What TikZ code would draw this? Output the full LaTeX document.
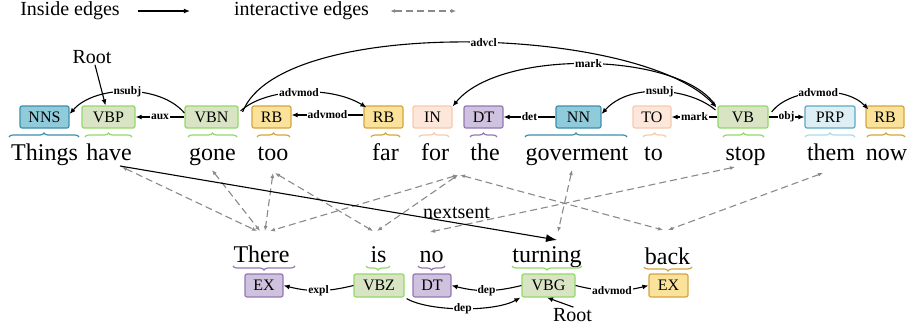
\documentclass[tikz,border=0pt]{standalone}
\usepackage{fontspec}
\setmainfont{Liberation Serif}
\usetikzlibrary{arrows.meta,decorations.pathreplacing,calc}
\definecolor{tealF}{HTML}{8FCBDA}\definecolor{tealD}{HTML}{3E8FAA}
\definecolor{grnF}{HTML}{D8E4C4}\definecolor{grnD}{HTML}{92D86A}
\definecolor{ylwF}{HTML}{FBE29A}\definecolor{ylwD}{HTML}{D4A53E}
\definecolor{pchF}{HTML}{FDE6DA}\definecolor{pchD}{HTML}{F6C9AE}
\definecolor{purF}{HTML}{CFC2DE}\definecolor{purD}{HTML}{9478B4}
\definecolor{ltbF}{HTML}{DDEFF5}\definecolor{ltbD}{HTML}{5DA8C2}\definecolor{ltbB}{HTML}{A9DAEA}
\definecolor{dgray}{HTML}{8A8A8A}
\tikzset{
  tag/.style={draw, rounded corners=2pt, line width=1.2pt, minimum height=22pt, inner sep=0pt, font=\fontsize{16}{16}\selectfont},
  tteal/.style={tag, fill=tealF, draw=tealD},
  tgrn/.style={tag, fill=grnF, draw=grnD},
  tylw/.style={tag, fill=ylwF, draw=ylwD},
  tpch/.style={tag, fill=pchF, draw=pchD},
  tpur/.style={tag, fill=purF, draw=purD},
  tltb/.style={tag, fill=ltbF, draw=ltbD},
  word/.style={anchor=base, inner sep=0pt, font=\fontsize{24}{24}\selectfont},
  bigtxt/.style={inner sep=1pt, font=\fontsize{20}{20}\selectfont},
  lbl/.style={fill=white, inner sep=0.8pt, font=\bfseries\fontsize{11.5}{11.5}\selectfont},
  depedge/.style={line width=1.1pt, -{Latex[length=6pt,width=5pt]}},
  inter/.style={dgray, line width=1.1pt, dash pattern=on 7pt off 4pt, {Latex[length=5pt,width=4pt]}-{Latex[length=5pt,width=4pt]}},
  wbrace/.style={decorate, decoration={brace, amplitude=4pt}, line width=1.2pt},
}
\begin{document}
\begin{tikzpicture}[x=1pt,y=-1pt]
\useasboundingbox (0,0) rectangle (910,333);
% legend
\node[bigtxt] (leg1) at (70,11) {Inside edges};
\node[bigtxt] (leg2) at (301.5,11) {interactive edges};
\draw[line width=1.1pt, -{Latex[length=6pt,width=5pt]}] ([xshift=17pt]leg1.east) -- ([xshift=69pt]leg1.east);
\draw[inter] ([xshift=20pt]leg2.east) -- ([xshift=86pt]leg2.east);
% top tags
\node[tteal, minimum width=49pt] (nns) at (44.5,117) {NNS};
\node[tgrn, minimum width=53pt] (vbp) at (108.5,117) {VBP};
\node[tgrn, minimum width=53pt] (vbn) at (211.5,117) {VBN};
\node[tylw, minimum width=39pt] (rbtoo) at (271.5,117) {RB};
\node[tylw, minimum width=39pt] (rbfar) at (383.5,117) {RB};
\node[tpch, minimum width=39pt] (tin) at (432.5,117) {IN};
\node[tpur, minimum width=39pt] (dt) at (483.5,117) {DT};
\node[tteal, minimum width=45pt] (nn) at (578.5,117) {NN};
\node[tpch, minimum width=38pt] (tto) at (652,117) {TO};
\node[tgrn, minimum width=50pt] (vb) at (743,117) {VB};
\node[tltb, minimum width=50pt] (prp) at (830,117) {PRP};
\node[tylw, minimum width=38pt] (rbnow) at (885,117) {RB};
% bottom tags
\node[tpur, minimum width=38pt, minimum height=23pt] (ex) at (264,285.5) {EX};
\node[tgrn, minimum width=50pt, minimum height=23pt] (vbz) at (379,285.5) {VBZ};
\node[tpur, minimum width=38pt, minimum height=23pt] (dtb) at (432,285.5) {DT};
\node[tgrn, minimum width=53pt, minimum height=23pt] (vbg) at (548.5,285.5) {VBG};
\node[tylw, minimum width=39pt, minimum height=23pt] (exb) at (668.5,285.5) {EX};
% top words
\node[word] (things) at (44.5,160) {Things};
\node[word] (have) at (109,160) {have};
\node[word] (gone) at (212.5,160) {gone};
\node[word] (too) at (273,160) {too};
\node[word] (far) at (385.5,160) {far};
\node[word] (for) at (435,160) {for};
\node[word] (the) at (485,160) {the};
\node[word] (gov) at (577,160) {goverment};
\node[word] (to) at (653.5,160) {to};
\node[word] (stop) at (745.5,160) {stop};
\node[word] (them) at (831,160) {them};
\node[word] (now) at (886.5,160) {now};
% bottom words
\node[word] (there) at (261.5,262) {There};
\node[word] (is) at (378.5,262) {is};
\node[word] (no) at (431.5,262) {no};
\node[word] (turning) at (547,262) {turning};
\node[word] (back) at (667.5,264) {back};
% top braces
\draw[wbrace, tealD] (9,137) -- (79,137);
\draw[wbrace, grnD] (85,137) -- (132,137);
\draw[wbrace, grnD] (188,137) -- (237,137);
\draw[wbrace, ylwD] (257,137) -- (290,137);
\draw[wbrace, ylwD] (371,137) -- (400,137);
\draw[wbrace, pchD] (419,137) -- (449,137);
\draw[wbrace, purD] (470,137) -- (497,137);
\draw[wbrace, tealD] (525,137) -- (627,137);
\draw[wbrace, pchD] (643,137) -- (666,137);
\draw[wbrace, grnD] (723,137) -- (764,137);
\draw[wbrace, ltbB] (805,137) -- (855,137);
\draw[wbrace, ylwD] (867,137) -- (905,137);
% bottom braces
\draw[wbrace, purD] (295,266) -- (233,266);
\draw[wbrace, grnD] (390,266) -- (366,266);
\draw[wbrace, purD] (445,266) -- (418,266);
\draw[wbrace, grnD] (582,266) -- (512,266);
\draw[wbrace, ylwD] (692,267) -- (644,267);
% roots
\node[bigtxt] (root1) at (92,57) {Root};
\node[bigtxt] (root2) at (572.5,315) {Root};
\draw[depedge] ([xshift=3pt]root1.south) -- ([xshift=-3pt]vbp.north);
\draw[depedge] ([xshift=1pt]root2.north) -- ([xshift=-1.5pt]vbg.south);
% top dependency edges
\draw[depedge] ([yshift=4pt]vbn.west) .. controls (160,84) and (95,85) .. ([yshift=3pt]nns.east) node[lbl, pos=0.5] {nsubj};
\draw[depedge] (vbn.west) -- (vbp.east) node[lbl, midway] {aux};
\draw[depedge] ([shift={(2,-6)}]vbn.east) .. controls (265,88) and (330,85) .. ([shift={(3,2)}]rbfar.north west) node[lbl, pos=0.5] {advmod};
\draw[depedge] ([yshift=2pt]rbfar.west) -- ([yshift=2pt]rbtoo.east) node[lbl, midway] {advmod};
\draw[depedge] ([shift={(4,-5)}]vbn.east) .. controls (280,15) and (640,25) .. ([shift={(-1,2)}]vb.north west) node[lbl, pos=0.53] {advcl};
\draw[depedge] ([shift={(-2,0)}]vb.north west) .. controls (680,52) and (500,48) .. ([shift={(0,1)}]tin.north east) node[lbl, pos=0.5] {mark};
\draw[depedge] ([shift={(-2,-7)}]vb.west) .. controls (690,88) and (630,82) .. ([yshift=3pt]nn.east) node[lbl, pos=0.5] {nsubj};
\draw[depedge] (nn.west) -- (dt.east) node[lbl, midway] {det};
\draw[depedge] (vb.west) -- (tto.east) node[lbl, midway] {mark};
\draw[depedge] (vb.east) -- (prp.west) node[lbl, midway] {obj};
\draw[depedge] ([shift={(3,-5)}]vb.east) .. controls (790,88) and (845,85) .. ([shift={(3,4)}]rbnow.north west) node[lbl, pos=0.5] {advmod};
% bottom dependency edges
\draw[depedge] (vbz.west) to[bend left=14] node[lbl] {expl} (ex.east);
\draw[depedge] (vbg.west) to[bend left=14] node[lbl] {dep} (dtb.east);
\draw[depedge] ([shift={(2,1)}]vbz.south east) .. controls (430,312) and (495,312) .. ([shift={(-1,0)}]vbg.south west) node[lbl, pos=0.5] {dep};
\draw[depedge] (vbg.east) to[bend right=14] node[lbl] {advmod} (exb.west);
% interactive edges
\draw[inter] ([shift={(13,7)}]have.base) -- ([shift={(-4.5,-31)}]there.base);
\draw[inter] ([shift={(-0.5,10)}]gone.base) -- ([shift={(-1.5,-31)}]there.base);
\draw[inter] ([shift={(0,13)}]too.base) -- ([shift={(3.5,-31)}]there.base);
\draw[inter] ([shift={(-27,15)}]the.base) -- ([shift={(8.5,-31)}]there.base);
\draw[inter] ([shift={(2,13)}]too.base) -- ([shift={(-5.5,-31)}]is.base);
\draw[inter] ([shift={(-27,15)}]the.base) -- ([shift={(-1.5,-31)}]is.base);
\draw[inter] ([shift={(-25,15)}]the.base) -- ([shift={(-4.5,-34)}]back.base);
\draw[inter] ([shift={(-10.5,7)}]stop.base) -- ([shift={(-1.5,-30)}]no.base);
\draw[inter] ([shift={(-5,10)}]gov.base) -- ([shift={(11,-30)}]turning.base);
\draw[inter] ([shift={(-8,13)}]them.base) -- ([shift={(0.5,-34)}]back.base);
% nextsent
\draw[line width=1.1pt, -{Latex[length=11pt,width=8pt]}] ([shift={(11,6)}]have.base) -- ([shift={(10,-22)}]turning.base) node[pos=0.77, anchor=base, yshift=4pt, inner sep=0pt, font=\fontsize{20}{20}\selectfont] {nextsent};
\end{tikzpicture}
\end{document}
